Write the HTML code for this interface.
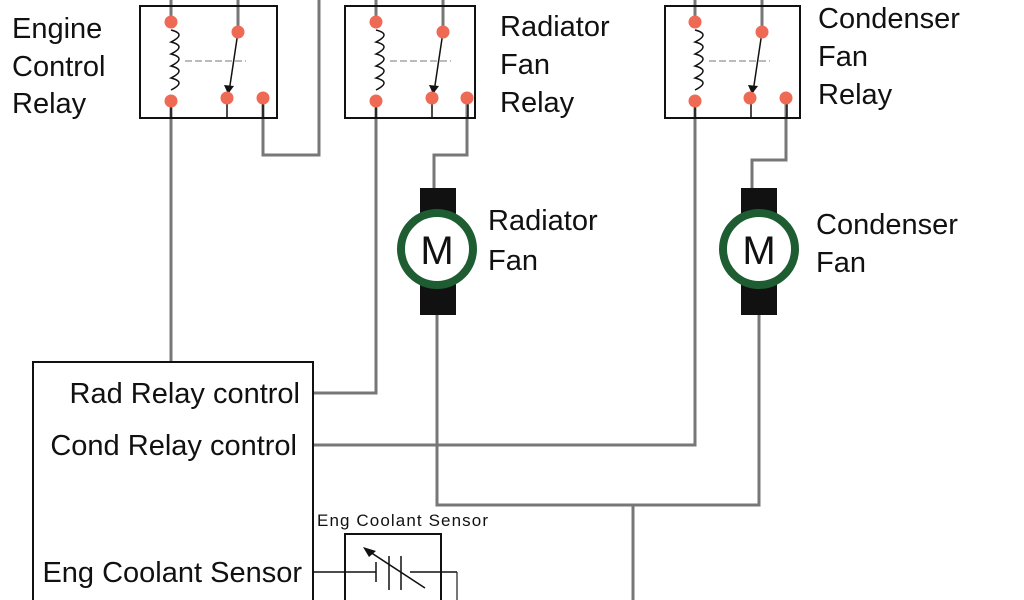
<!DOCTYPE html>
<html><head><style>body{margin:0;background:#fff}svg{display:block}text{font-family:"Liberation Sans",sans-serif;fill:#111}</style></head><body>
<svg width="1024" height="600" viewBox="0 0 1024 600">
<g fill="none" stroke="#777" stroke-width="3">
<path d="M171 0V22M238 0V32M263 98V155H319V0"/>
<path d="M376 0V22M443 0V32M467 98V155H434V188M376 101V393H313"/>
<path d="M695 0V22M762 0V32M786 98V160H752V188M695 101V445H313"/>
<path d="M171 101V362"/>
<path d="M437 315V505H759V315M633 505V600"/>
<path d="M457 572V600" stroke-width="2"/>
</g>
<g fill="none" stroke="#111" stroke-width="2">
<rect x="140" y="6" width="137" height="112"/>
<rect x="345" y="6" width="130" height="112"/>
<rect x="665" y="6" width="135" height="112"/>
<path d="M33 600V362H313V600"/>
<rect x="345" y="534" width="96" height="70"/>
<path d="M313 572H376M376 562V582M389 556V590M401 556V590M410 572H457" stroke-width="1.5"/>
<path d="M425 588L367 550" stroke-width="1.5"/>
</g>
<path d="M363 547L376 551L369 557Z" fill="#111"/>
<g id="relayinner">
<path d="M171 30 q16 4 0 12 q16 4 0 12 q16 4 0 12 q16 4 0 12 q16 4 0 12" fill="none" stroke="#111" stroke-width="1.5"/>
<path d="M185 61H246" stroke="#bbb" stroke-width="2" stroke-dasharray="7 3"/>
<path d="M238 32L229 92M227 98V118M263 98V118M171 101V118" stroke="#111" stroke-width="1.5"/>
<path d="M224 85L234 86L228 94Z" fill="#111"/>
</g>
<use href="#relayinner" x="205"/>
<use href="#relayinner" x="524"/>
<g fill="#ef6a55">
<circle cx="171" cy="22" r="6.5"/><circle cx="238" cy="32" r="6.5"/><circle cx="171" cy="101" r="6.5"/><circle cx="227" cy="98" r="6.5"/><circle cx="263" cy="98" r="6.5"/>
<circle cx="376" cy="22" r="6.5"/><circle cx="443" cy="32" r="6.5"/><circle cx="376" cy="101" r="6.5"/><circle cx="432" cy="98" r="6.5"/><circle cx="467" cy="98" r="6.5"/>
<circle cx="695" cy="22" r="6.5"/><circle cx="762" cy="32" r="6.5"/><circle cx="695" cy="101" r="6.5"/><circle cx="750" cy="98" r="6.5"/><circle cx="786" cy="98" r="6.5"/>
</g>
<rect x="420" y="188" width="36" height="127" fill="#111"/>
<circle cx="437" cy="249" r="36" fill="#fff" stroke="#1e5c32" stroke-width="8"/>
<text x="437" y="264" font-size="40" text-anchor="middle">M</text>
<rect x="741" y="188" width="36" height="127" fill="#111"/>
<circle cx="759" cy="249" r="36" fill="#fff" stroke="#1e5c32" stroke-width="8"/>
<text x="759" y="264" font-size="40" text-anchor="middle">M</text>
<g font-size="29">
<text x="12" y="38">Engine</text><text x="12" y="76">Control</text><text x="12" y="113">Relay</text>
<text x="500" y="36">Radiator</text><text x="500" y="74">Fan</text><text x="500" y="112">Relay</text>
<text x="818" y="28">Condenser</text><text x="818" y="66">Fan</text><text x="818" y="104">Relay</text>
<text x="488" y="230">Radiator</text><text x="488" y="270">Fan</text>
<text x="816" y="234">Condenser</text><text x="816" y="272">Fan</text>
<text x="300" y="403" text-anchor="end">Rad Relay control</text>
<text x="297" y="455" text-anchor="end">Cond Relay control</text>
<text x="302" y="582" text-anchor="end">Eng Coolant Sensor</text>
</g>
<text x="317" y="526" font-size="17" textLength="171">Eng Coolant Sensor</text>
</svg>
</body></html>
